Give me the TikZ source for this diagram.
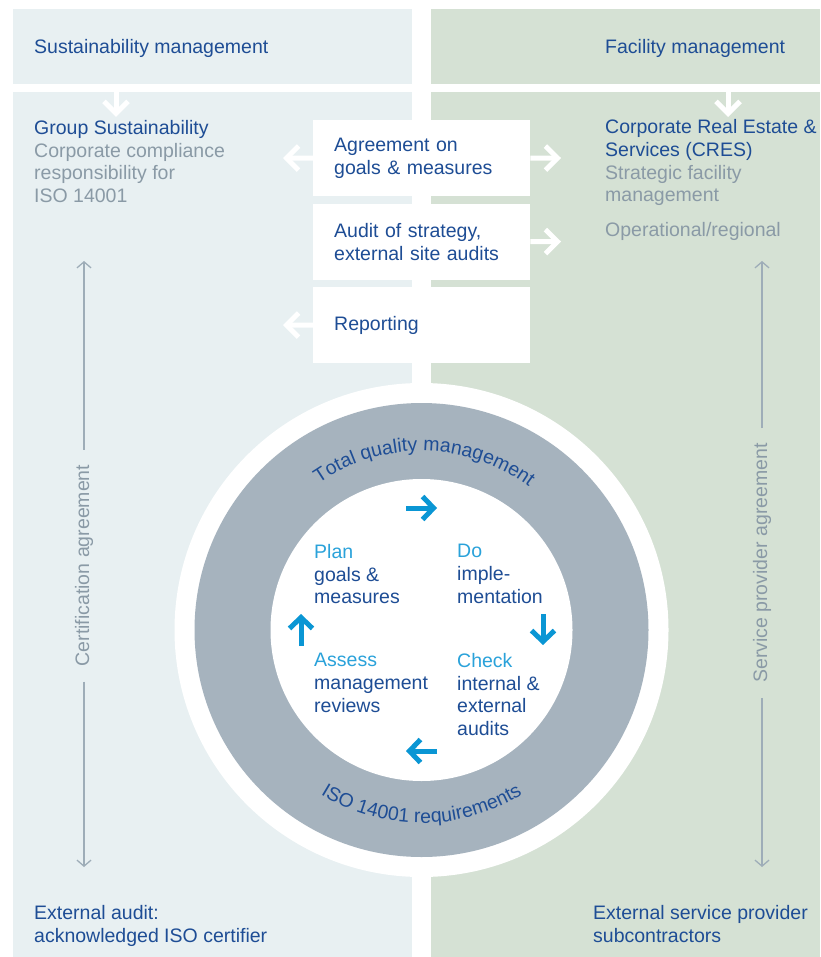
\documentclass[tikz,border=0pt]{standalone}
\usepackage{fontspec}
\setmainfont{Liberation Sans}
\usetikzlibrary{arrows.meta,decorations.text}
\definecolor{panelL}{HTML}{E8F0F2}
\definecolor{panelR}{HTML}{D5E1D4}
\definecolor{dblue}{HTML}{1E4D95}
\definecolor{gtext}{HTML}{8A9AA6}
\definecolor{ringc}{HTML}{A6B3BE}
\definecolor{cyanA}{HTML}{0A96D4}
\definecolor{planC}{HTML}{2AA2DA}
\definecolor{vline}{HTML}{9EADB8}
\newcommand\diafs{\fontsize{19.5}{22.7}\selectfont}
\begin{document}
\begin{tikzpicture}[x=1pt,y=-1pt,
  every node/.style={inner sep=0pt},
  txt/.style={font=\diafs, text=dblue},
  blk/.style={txt, anchor=north west, align=left},
  one/.style={txt, anchor=base west},
  wbox/.style={fill=white, txt, anchor=north west, minimum height=76pt,
    text width=175pt, inner xsep=21pt, inner ysep=0pt, align=left},
  warrow/.style={draw=white, line width=5pt, -{Straight Barb[length=12pt,width=24pt]}},
  carrow/.style={draw=cyanA, line width=5pt, -{Straight Barb[length=11pt,width=23pt]}},
  garrow/.style={draw=vline, line width=1.3pt, -{Straight Barb[length=6pt,width=14pt]}},
  vtxt/.style={font=\diafs, text=gtext, rotate=90, inner xsep=15pt},
  arctext/.style={decorate, decoration={text along path, text align=center, text color=dblue}}
]
\useasboundingbox (0,0) rectangle (820,957);
% panels
\fill[panelL] (13,9) rectangle (412,84);
\fill[panelR] (431,9) rectangle (820,84);
\fill[panelL] (13,92) rectangle (412,957);
\fill[panelR] (431,92) rectangle (820,957);

% headers
\node[one] (hdrL) at (34,54) {Sustainability management};
\node[one] (hdrR) at (605,54) {Facility management};

% header arrows
\coordinate (dLs) at (116,92); \coordinate (dLe) at (116,117);
\coordinate (dRs) at (728,92); \coordinate (dRe) at (728,117);
\draw[warrow] (dLs) -- (dLe);
\draw[warrow] (dRs) -- (dRe);

% left / right blocks
\node[blk] (grp) at (34,120.2) {Group Sustainability\\
  \textcolor{gtext}{Corporate compliance}\\
  \textcolor{gtext}{responsibility for}\\
  \textcolor{gtext}{ISO 14001}};
\node[blk] (cres) at (605,119.5) {Corporate Real Estate \&\\
  Services (CRES)\\
  \textcolor{gtext}{Strategic facility}\\
  \textcolor{gtext}{management}};
\node[one, text=gtext] (oper) at (605,237) {Operational/regional};

% central boxes
\node[wbox] (box1) at (313,120) {Agreement on\\goals \& measures};
\node[wbox] (box2) at (313,203.5) {Audit of strategy,\\external site audits};
\node[wbox] (box3) at (313,287) {Reporting};

\coordinate (b1L) at (283,158); \coordinate (b1R) at (561,158);
\coordinate (b2R) at (561,241.5);
\coordinate (b3L) at (283,325);
\draw[warrow] (box1.west) -- (b1L);
\draw[warrow] (box1.east) -- (b1R);
\draw[warrow] (box2.east) -- (b2R);
\draw[warrow] (box3.west) -- (b3L);

% circle
\begin{scope}[shift={(421.5,630)}, y=1pt]
  \fill[white] (0,0) circle[radius=247];
  \fill[ringc] (0,0) circle[radius=227];
  \fill[white] (0,0) circle[radius=151];
  \path[arctext, decoration={text={|\diafs|Total quality management}}]
    (150:179) arc[start angle=150, end angle=28, radius=179];
  \path[arctext, decoration={text={|\diafs|ISO 14001 requirements}}]
    (210:193) arc[start angle=210, end angle=330, radius=193];
\end{scope}

% PDCA texts
\node[blk] (plan) at (314,544.2) {\textcolor{planC}{Plan}\\goals \&\\measures};
\node[blk] (do) at (457,544.2) {\textcolor{planC}{Do}\\imple-\\mentation};
\node[blk] (assess) at (314,653.2) {\textcolor{planC}{Assess}\\management\\reviews};
\node[blk] (check) at (457,653.2) {\textcolor{planC}{Check}\\internal \&\\external\\audits};

% cyan arrows
\coordinate (c1s) at (406,508); \coordinate (c1e) at (437,508);
\coordinate (c2s) at (543,614); \coordinate (c2e) at (543,645);
\coordinate (c3s) at (437,751); \coordinate (c3e) at (406,751);
\coordinate (c4s) at (301,646); \coordinate (c4e) at (301,614);
\draw[carrow] (c1s) -- (c1e);
\draw[carrow] (c2s) -- (c2e);
\draw[carrow] (c3s) -- (c3e);
\draw[carrow] (c4s) -- (c4e);

% vertical agreements
\node[vtxt] (cert) at (84,565.5) {Certification agreement};
\coordinate (certT) at (84,261); \coordinate (certB) at (84,867);
\draw[garrow] (cert.east) -- (certT);
\draw[garrow] (cert.west) -- (certB);
\node[vtxt] (serv) at (762,563) {Service provider agreement};
\coordinate (servT) at (762,261); \coordinate (servB) at (762,867);
\draw[garrow] (serv.east) -- (servT);
\draw[garrow] (serv.west) -- (servB);

% bottom texts
\node[blk] (extA) at (34,905.2) {External audit:\\acknowledged ISO certifier};
\node[blk] (extS) at (593,905.2) {External service provider\\subcontractors};
\end{tikzpicture}
\end{document}
